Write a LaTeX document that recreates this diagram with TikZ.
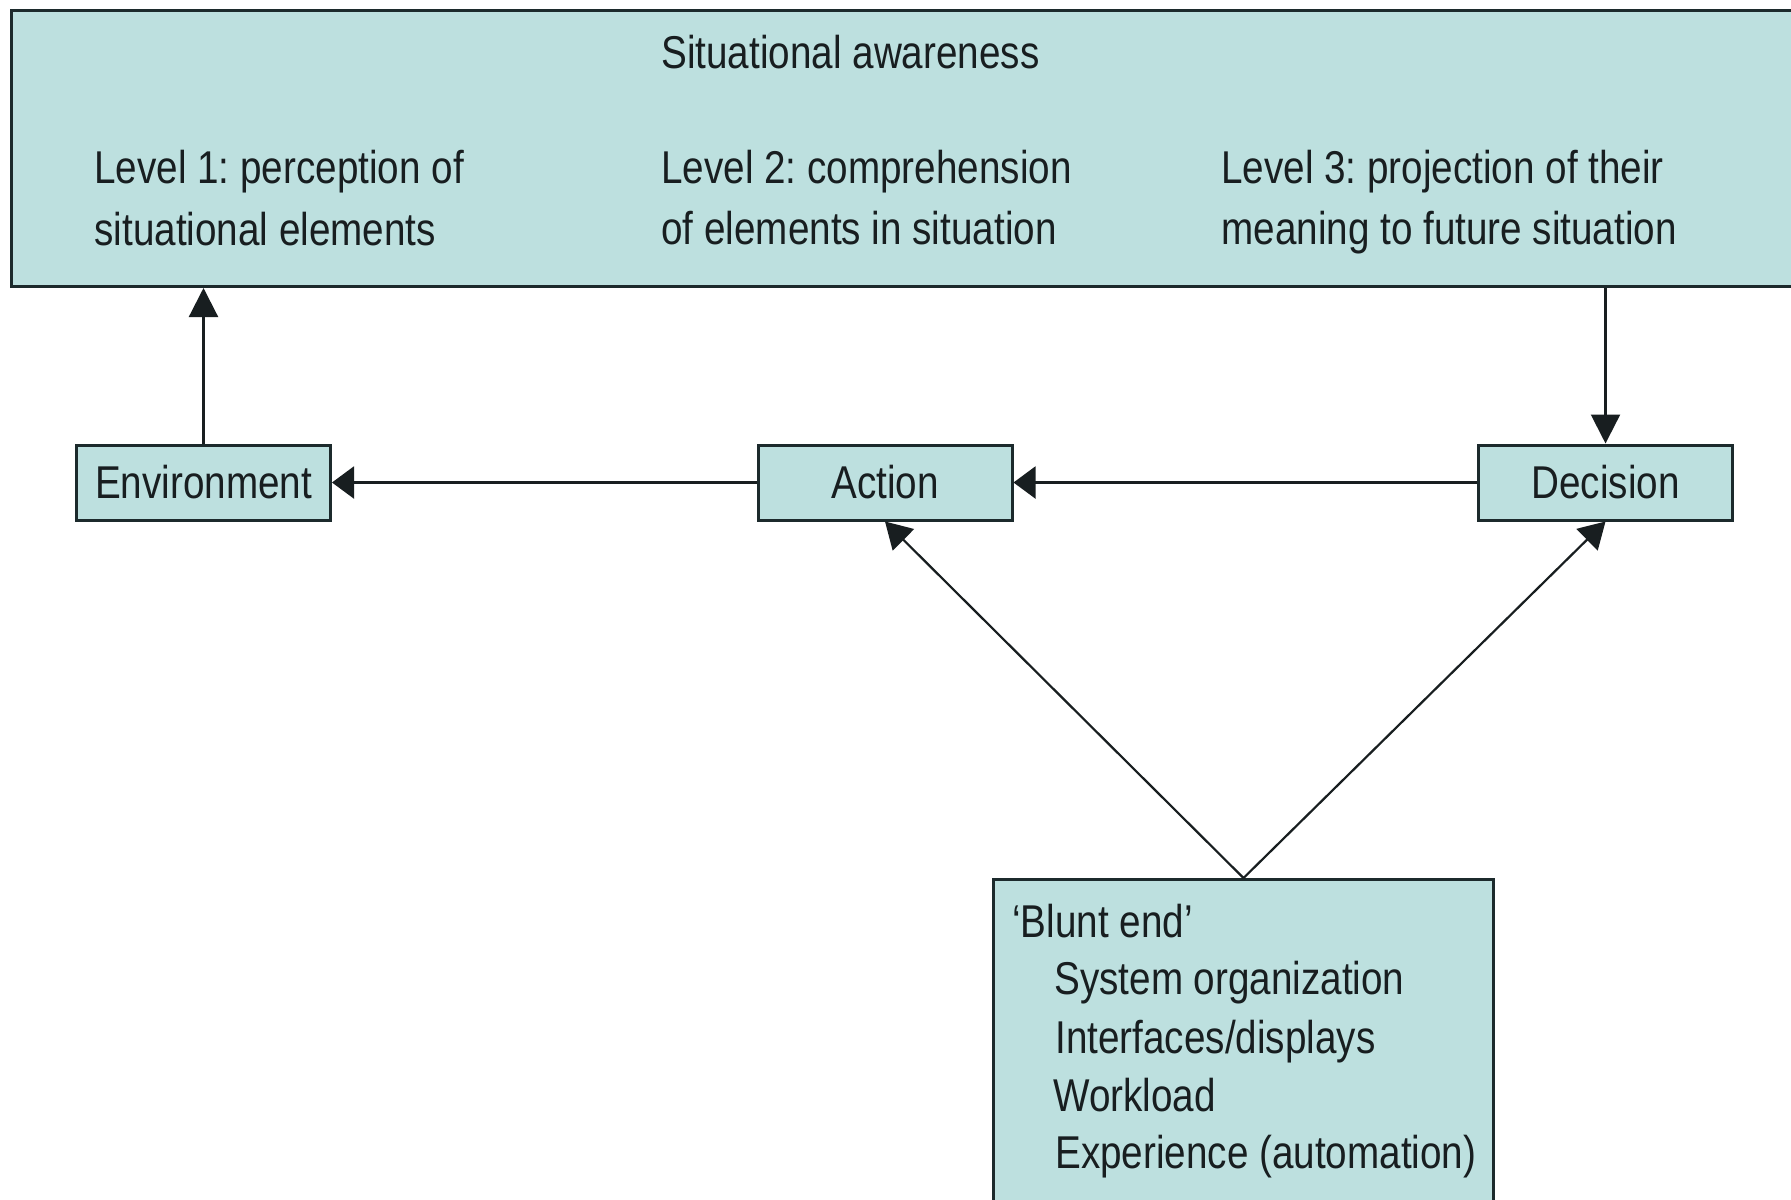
\documentclass[tikz,border=0pt]{standalone}
\usepackage{fontspec}
\setmainfont{Liberation Sans}[FakeStretch=0.84]
\usetikzlibrary{arrows.meta}
\definecolor{boxfill}{RGB}{189,224,223}
\definecolor{boxline}{RGB}{28,42,44}
\definecolor{ink}{RGB}{24,30,32}
\frenchspacing

\begin{document}
\begin{tikzpicture}[x=0.5pt,y=-0.5pt,
  panel/.style={draw=boxline, fill=boxfill, line width=1.5pt, rectangle, inner sep=0pt},
  txt/.style={anchor=base west, inner sep=0pt, text=ink, font=\fontsize{23}{28}\selectfont},
  stage/.style={panel, text=ink, font=\fontsize{23}{28}\selectfont,
                minimum width=127pt, minimum height=37.5pt},
  link/.style={draw=ink, line width=1.1pt},
  htip/.style={-{Triangle[length=11pt,width=16pt]}},
  vtip/.style={-{Triangle[length=14.5pt,width=14.5pt]}},
  dtip/.style={-{Triangle[length=13pt,width=15pt]}}
]
\useasboundingbox (0,0) rectangle (1791,1199);
\fill[white] (0,0) rectangle (1791,1199);
\clip (0,0) rectangle (1791,1199);

% situational awareness panel
\node[panel, anchor=north west, minimum width=905pt, minimum height=138pt] (sa) at (10,9) {};
\node[txt] (title) at (661,68) {Situational awareness};
\node[txt] (l1a) at (94,183) {Level 1: perception of};
\node[txt] (l1b) at (94,245) {situational elements};
\node[txt] (l2a) at (661,183) {Level 2: comprehension};
\node[txt] (l2b) at (661,244) {of elements in situation};
\node[txt] (l3a) at (1221,183) {Level 3: projection of their};
\node[txt] (l3b) at (1221,244) {meaning to future situation};

% stages
\node[stage] (env) at (203.5,482.5) {Environment};
\node[stage] (act) at (885,482.5) {Action};
\node[stage] (dec) at (1605.5,482.5) {Decision};

% blunt end panel
\node[panel, anchor=north west, minimum width=250pt, minimum height=175pt] (blunt) at (992,878) {};
\node[txt] (b0) at (1012,937) {‘Blunt end’};
\node[txt] (b1) at (1054,994) {System organization};
\node[txt] (b2) at (1055,1053) {Interfaces/displays};
\node[txt] (b3) at (1053,1111) {Workload};
\node[txt] (b4) at (1055,1168) {Experience (automation)};

% connectors
\draw[link, vtip] (env.north) -- (env.north |- sa.south);
\draw[link, vtip] (dec.north |- sa.south) -- (dec.north);
\draw[link, htip] (act.west) -- (env.east);
\draw[link, htip] (dec.west) -- (act.east);
\draw[link, dtip] (blunt.north) -- (act.south);
\draw[link, dtip] (blunt.north) -- (dec.south);
\end{tikzpicture}
\end{document}
